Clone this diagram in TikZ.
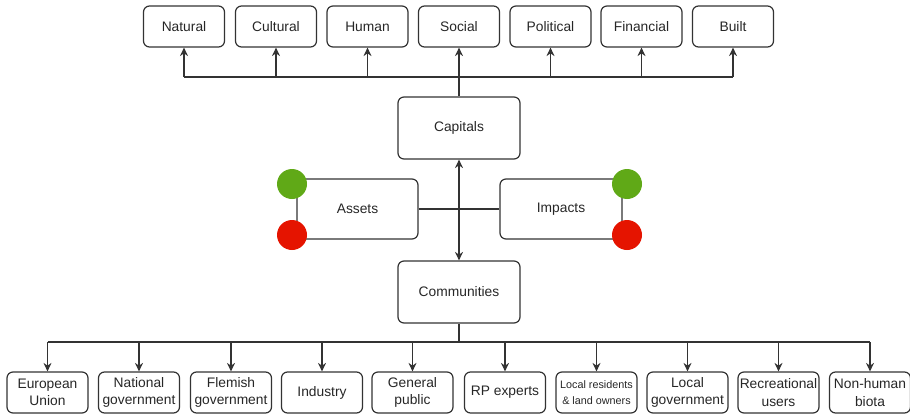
\documentclass[tikz,border=0pt]{standalone}
\usepackage{fontspec}
\setmainfont{Liberation Sans}
\usetikzlibrary{arrows.meta}
\definecolor{goodgreen}{HTML}{60A917}
\definecolor{badred}{HTML}{E51400}

\begin{document}
\begin{tikzpicture}[x=1pt,y=-1pt,
    box/.style={draw=black!80, line width=1.2pt, rounded corners=6pt, align=center, inner sep=1pt,
        text=black!85, font=\fontsize{13.8}{17.5}\selectfont},
    smallbox/.style={box, minimum width=81pt, minimum height=41pt},
    bigbox/.style={box, minimum width=122pt, minimum height=62pt},
    tinytext/.style={font=\fontsize{10.8}{16.5}\selectfont},
    link/.style={draw=black!80, line width=1.2pt},
    arr/.style={link, -{Stealth[length=8.5pt,width=8pt]}},
    twoarr/.style={link, {Stealth[length=8.5pt,width=8pt]}-{Stealth[length=8.5pt,width=8pt]}},
    dot/.style={circle, minimum size=30pt, inner sep=0pt},
    ]
    \useasboundingbox (0,0) rectangle (910,415);

    \node[smallbox] (natural) at (184,26.5) {Natural};
    \node[smallbox] (cultural) at (276,26.5) {Cultural};
    \node[smallbox] (human) at (367.5,26.5) {Human};
    \node[smallbox] (social) at (459,26.5) {Social};
    \node[smallbox] (political) at (550.5,26.5) {Political};
    \node[smallbox] (financial) at (641.5,26.5) {Financial};
    \node[smallbox] (built) at (733,26.5) {Built};

    \node[bigbox] (capitals) at (459,128) {Capitals};
    \node[box, minimum width=121pt, minimum height=60pt] (assets) at (357.5,209) {Assets};
    \node[box, minimum width=122pt, minimum height=60pt] (impacts) at (561,209) {Impacts};
    \node[bigbox] (communities) at (459,292) {Communities};

    \node[dot, fill=goodgreen] (assetsgood) at (292,184) {};
    \node[dot, fill=badred] (assetsbad) at (292,235) {};
    \node[dot, fill=goodgreen] (impactsgood) at (627,184) {};
    \node[dot, fill=badred] (impactsbad) at (627,235) {};

    \node[smallbox] (eu) at (47.5,392.5) {European\\Union};
    \node[smallbox] (national) at (139,392.5) {National\\government};
    \node[smallbox] (flemish) at (231,392.5) {Flemish\\government};
    \node[smallbox] (industry) at (322,392.5) {Industry};
    \node[smallbox] (public) at (412.5,392.5) {General\\public};
    \node[smallbox] (experts) at (505,392.5) {RP experts};
    \node[smallbox, tinytext] (residents) at (596.5,392.5) {Local residents\\\& land owners};
    \node[smallbox] (localgov) at (687.5,392.5) {Local\\government};
    \node[smallbox] (recreation) at (778.5,392.5) {Recreational\\users};
    \node[smallbox] (biota) at (870,392.5) {Non-human\\biota};

    \coordinate (topbus) at (459,77);
    \coordinate (lowbus) at (459,342);

    \draw[link] (capitals.north) -- (topbus);
    \draw[link] (natural |- topbus) -- (built |- topbus);
    \draw[arr] (natural |- topbus) -- (natural.south);
    \draw[arr] (cultural |- topbus) -- (cultural.south);
    \draw[arr] (human |- topbus) -- (human.south);
    \draw[arr] (social |- topbus) -- (social.south);
    \draw[arr] (political |- topbus) -- (political.south);
    \draw[arr] (financial |- topbus) -- (financial.south);
    \draw[arr] (built |- topbus) -- (built.south);

    \draw[link] (assets.east) -- (impacts.west);
    \draw[twoarr] (capitals.south) -- (communities.north);

    \draw[link] (communities.south) -- (lowbus);
    \draw[link] (eu |- lowbus) -- (biota |- lowbus);
    \draw[arr] (eu |- lowbus) -- (eu.north);
    \draw[arr] (national |- lowbus) -- (national.north);
    \draw[arr] (flemish |- lowbus) -- (flemish.north);
    \draw[arr] (industry |- lowbus) -- (industry.north);
    \draw[arr] (public |- lowbus) -- (public.north);
    \draw[arr] (experts |- lowbus) -- (experts.north);
    \draw[arr] (residents |- lowbus) -- (residents.north);
    \draw[arr] (localgov |- lowbus) -- (localgov.north);
    \draw[arr] (recreation |- lowbus) -- (recreation.north);
    \draw[arr] (biota |- lowbus) -- (biota.north);
\end{tikzpicture}
\end{document}
